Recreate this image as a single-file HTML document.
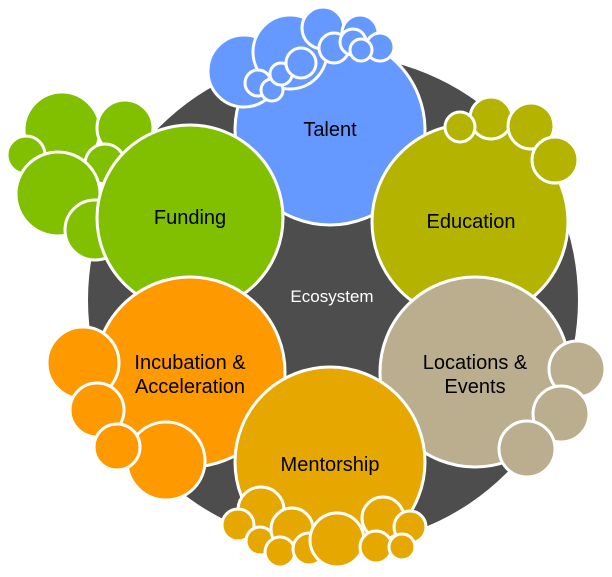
<!DOCTYPE html>
<html><head><meta charset="utf-8"><style>
html,body{margin:0;padding:0;background:#fff;width:612px;height:577px;overflow:hidden}
svg{display:block}
text{font-family:"Liberation Sans",sans-serif;font-size:20px;fill:#000;text-anchor:middle}
</style></head><body>
<svg width="612" height="577" viewBox="0 0 612 577">
<g stroke="#fff" stroke-width="3">
<circle cx="333" cy="300" r="245" fill="#4d4d4d" stroke="none"/>
<!-- talent -->
<g fill="#6699ff">
<circle cx="330" cy="130" r="95"/>
<circle cx="244" cy="71" r="36"/>
<circle cx="290" cy="52" r="37"/>
<circle cx="323" cy="28" r="21"/>
<circle cx="360" cy="33" r="18"/>
<circle cx="380" cy="47" r="14"/>
<circle cx="258" cy="83" r="13"/>
<circle cx="272" cy="90" r="11"/>
<circle cx="281" cy="74" r="11"/>
<circle cx="301" cy="63" r="15"/>
<circle cx="334" cy="48" r="15"/>
<circle cx="353" cy="42" r="13"/>
<circle cx="361" cy="50" r="11"/>
</g>
<!-- education -->
<g fill="#b3b300">
<circle cx="470" cy="222" r="98"/>
<circle cx="491" cy="118" r="21"/>
<circle cx="460" cy="127" r="15"/>
<circle cx="531" cy="126" r="23"/>
<circle cx="555" cy="160" r="23"/>
</g>
<!-- funding -->
<g fill="#80c000">
<circle cx="62" cy="130" r="38"/>
<circle cx="125" cy="128" r="28"/>
<circle cx="26" cy="155" r="19"/>
<circle cx="105" cy="164" r="20"/>
<circle cx="58" cy="194" r="42"/>
<circle cx="95" cy="230" r="30"/>
<circle cx="190" cy="218" r="93"/>
</g>
<!-- incubation -->
<g fill="#ff9900">
<circle cx="190" cy="372" r="95"/>
<circle cx="83" cy="363" r="36"/>
<circle cx="97" cy="410" r="27"/>
<circle cx="166" cy="461" r="39"/>
<circle cx="117" cy="447" r="23"/>
</g>
<!-- locations -->
<g fill="#bbae8e">
<circle cx="475" cy="372" r="95"/>
<circle cx="577" cy="369" r="28"/>
<circle cx="561" cy="414" r="28"/>
<circle cx="527" cy="449" r="28"/>
</g>
<!-- mentorship -->
<g fill="#e6a800">
<circle cx="330" cy="462" r="95"/>
<circle cx="261" cy="510" r="23"/>
<circle cx="238" cy="525" r="16"/>
<circle cx="260" cy="541" r="14"/>
<circle cx="292" cy="529" r="21"/>
<circle cx="280" cy="552" r="15"/>
<circle cx="309" cy="549" r="16"/>
<circle cx="337" cy="540" r="27"/>
<circle cx="383" cy="518" r="21"/>
<circle cx="410" cy="527" r="16"/>
<circle cx="376" cy="547" r="16"/>
<circle cx="402" cy="547" r="13"/>
</g>
</g>
<text x="330" y="136">Talent</text>
<text x="471" y="228">Education</text>
<text x="190" y="224">Funding</text>
<text x="190" y="369">Incubation &amp;</text>
<text x="190" y="393">Acceleration</text>
<text x="475" y="369">Locations &amp;</text>
<text x="475" y="393">Events</text>
<text x="330" y="471">Mentorship</text>
<text x="332" y="302" style="fill:#fff;font-size:17px">Ecosystem</text>
</svg>
</body></html>
